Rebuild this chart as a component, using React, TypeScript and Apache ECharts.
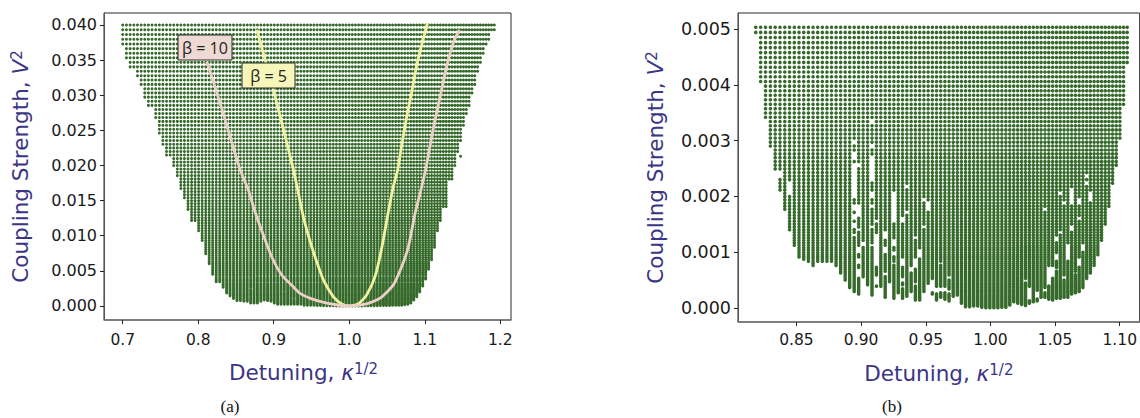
import React, { useEffect, useRef } from "react";
import * as echarts from "echarts";

// Sampled columns (kappa^(1/2)) and coupling (V) rows, panel (a)
const rootKappaA = [.7,.7049,.7098,.7147,.7195,.7244,.7292,.734,.7388,.7437,.7485,.7532,.758,.7628,.7675,.7723,.777,.7817,.7865,.7912,.7958,.8005,.8052,.8099,.8145,.8191,.8238,.8284,.833,.8376,.8421,.8467,.8513,.8558,.8604,.8649,.8694,.8739,.8784,.8829,.8874,.8918,.8963,.9007,.9051,.9096,.914,.9184,.9228,.9271,.9315,.9359,.9402,.9445,.9489,.9532,.9575,.9618,.966,.9703,.9746,.9788,.983,.9873,.9915,.9957,.9999,1.0041,1.0082,1.0124,1.0165,1.0207,1.0248,1.0289,1.033,1.0371,1.0412,1.0453,1.0493,1.0534,1.0574,1.0615,1.0655,1.0695,1.0735,1.0775,1.0815,1.0854,1.0894,1.0933,1.0973,1.1012,1.1051,1.109,1.1129,1.1168,1.1206,1.1245,1.1283,1.1322,1.136,1.1398,1.1436,1.1474,1.1512,1.155,1.1587,1.1625,1.1662,1.1699,1.1737,1.1774,1.1811,1.1847,1.1884,1.1921];
const couplingA = [0,.00172,.00345,.00517,.0069,.00862,.01034,.01207,.01379,.01552,.01724,.01897,.02069,.02241,.02414,.02586,.02759,.02931,.03103,.03276,.03448,.03621,.03793,.03966,.04138,.0431,.04483,.04655,.04828,.05,.05172,.05345,.05517,.0569,.05862,.06034,.06207,.06379,.06552,.06724,.06897,.07069,.07241,.07414,.07586,.07759,.07931,.08103,.08276,.08448,.08621,.08793,.08966,.09138,.0931,.09483,.09655,.09828,.1,.10172,.10345,.10517,.1069,.10862,.11034,.11207,.11379,.11552,.11724,.11897,.12069,.12241,.12414,.12586,.12759,.12931,.13103,.13276,.13448,.13621,.13793,.13966,.14138,.1431,.14483,.14655,.14828,.15,.15172,.15345,.15517,.1569,.15862,.16034,.16207,.16379,.16552,.16724,.16897,.17069,.17241,.17414,.17586,.17759,.17931,.18103,.18276,.18448,.18621,.18793,.18966,.19138,.1931,.19483,.19655,.19828,.2];
// Lower envelope: kappa positions and the lowest V^2 there
const envelopeKappaA = [.49,.49875,.5075,.51625,.525,.53375,.5425,.55125,.56,.56875,.5775,.58625,.595,.60375,.6125,.62125,.63,.63875,.6475,.65625,.665,.67375,.6825,.69125,.7,.70875,.7175,.72625,.735,.74375,.7525,.76125,.77,.77875,.7875,.79625,.805,.81375,.8225,.83125,.84,.84875,.8575,.86625,.875,.88375,.8925,.90125,.91,.91875,.9275,.93625,.945,.95375,.9625,.97125,.98,.98875,.9975,1.00625,1.015,1.02375,1.0325,1.04125,1.05,1.05875,1.0675,1.07625,1.085,1.09375,1.1025,1.11125,1.12,1.12875,1.1375,1.14625,1.155,1.16375,1.1725,1.18125,1.19,1.19875,1.2075,1.21625,1.225,1.23375,1.2425,1.25125,1.26,1.26875,1.2775,1.28625,1.295,1.30375,1.3125,1.32125,1.33,1.33875,1.3475,1.35625,1.365,1.37375,1.3825,1.39125,1.4,1.40875,1.4175];
const floorA = [.0372,.035,.0337,.0324,.0312,.0293,.028,.0263,.0243,.0226,.0212,.0196,.0181,.0166,.015,.0135,.012,.0105,.009,.0073,.0058,.0045,.0034,.0026,.0018,.0014,.001,.0007,.0007,.0006,.0004,.0004,.0004,.0006,.0008,.0007,.0006,.0004,.0002,.0002,.0002,.0002,.0002,.0002,.0002,.0001,.0001,.0001,.0001,.00005,.00005,.00004,.00003,.00002,.00001,.00001,0,0,0,0,0,.00001,.00001,.00002,.00002,.00003,.00003,.00004,.00005,.00005,.00006,.00007,.00008,.0001,.0001,.0001,.00015,.0002,.0004,.0008,.0013,.002,.0028,.0038,.005,.0064,.0083,.0104,.012,.014,.0161,.018,.0198,.0218,.0235,.0252,.027,.0283,.0298,.0315,.033,.0343,.0357,.0367,.0378,.0387,.0393];
// Missing cells: column index, V^2 low, V^2 high
const holesA = [[36,.0024,.0026],[36,.0012,.0014],[46,.0019,.0021],[49,.0009,.0011],[84,.0016,.0018]];
const strayA = [[1.1474,.0213]];

// Panel (b)
const kappaB = [.67,.67621,.68242,.68863,.69484,.70105,.70726,.71347,.71968,.72589,.7321,.73831,.74452,.75073,.75694,.76315,.76936,.77557,.78178,.78799,.7942,.80041,.80662,.81283,.81904,.82525,.83146,.83767,.84388,.85009,.8563,.86251,.86872,.87493,.88114,.88735,.89356,.89977,.90598,.91219,.9184,.92461,.93082,.93703,.94324,.94945,.95566,.96187,.96808,.97429,.9805,.98671,.99292,.99913,1.00534,1.01155,1.01776,1.02397,1.03018,1.03639,1.0426,1.04881,1.05502,1.06123,1.06744,1.07365,1.07986,1.08607,1.09228,1.09849,1.1047,1.11091,1.11712,1.12333,1.12954,1.13575,1.14196,1.14817,1.15438,1.16059,1.1668,1.17301,1.17922,1.18543,1.19164,1.19785,1.20406,1.21027,1.21648,1.22269];
const couplingB = [0,.000657,.001314,.001971,.002628,.003285,.003942,.004599,.005256,.005913,.00657,.007227,.007884,.008541,.009198,.009855,.010512,.011169,.011826,.012483,.01314,.013797,.014454,.015111,.015768,.016425,.017082,.017739,.018396,.019053,.01971,.020367,.021024,.021681,.022338,.022995,.023652,.024309,.024966,.025623,.02628,.026937,.027594,.028251,.028908,.029565,.030222,.030879,.031536,.032193,.03285,.033507,.034164,.034821,.035478,.036135,.036792,.037449,.038106,.038763,.03942,.040077,.040734,.041391,.042048,.042705,.043362,.044019,.044676,.045333,.04599,.046647,.047304,.047961,.048618,.049275,.049932,.050589,.051246,.051903,.05256,.053217,.053874,.054531,.055188,.055845,.056502,.057159,.057816,.058473,.05913,.059787,.060444,.061101,.061758,.062415,.063072,.063729,.064386,.065043,.0657,.066357,.067014,.067671,.068328,.068985,.069642,.070299,.070956];
const floorB = [.00494,.00406,.00337,.00287,.00245,.00207,.00175,.00139,.00112,.00091,.00084,.0008,.00076,.00082,.00082,.00082,.0008,.00073,.0006,.00048,.00035,.00027,.00024,.00055,.00041,.00022,.00037,.00037,.00018,.00045,.00016,.00026,.00016,.0002,.00028,.00013,.00013,.00028,.00043,.00024,.00013,.00018,.00014,.00012,.0002,.00021,.00008,.00002,.00002,.00003,.00003,.00001,0,0,0,0,.00001,.00001,.00005,.0001,.00008,.00006,.00004,.00008,.0001,.00012,.00019,.00019,.00015,.00013,.00017,.00017,.00018,.00019,.00024,.00026,.00028,.00035,.0005,.00062,.00076,.00094,.00121,.00148,.00182,.0022,.00253,.00298,.00364,.0044];
const holesB = [
  [5,.00234,.00244],[6,.00218,.00222],[7,.00202,.00226],
  [21,.00306,.0031],[21,.00295,.00301],[21,.00265,.0028],[21,.00196,.00256],[21,.00175,.00187],[21,.0016,.00166],[21,.00145,.00154],[21,.00127,.00133],
  [22,.00277,.00283],[22,.0025,.00258],[22,.00163,.00187],[22,.00139,.00145],[22,.00097,.0011],[22,.00077,.0009],[22,.00055,.0007],[23,.00112,.00118],
  [25,.00334,.0034],[25,.00286,.00292],[25,.00262,.00271],[25,.00229,.00256],[25,.00196,.00208],[25,.00182,.00187],[25,.00142,.00148],[25,.00112,.00115],
  [26,.00154,.00157],[26,.00073,.00133],[26,.00041,.00058],
  [28,.00124,.00139],[28,.00097,.00109],[28,.00056,.00064],
  [30,.00154,.00208],[30,.00112,.00124],[30,.00094,.001],[30,.00079,.00082],
  [32,.00154,.00163],[32,.00073,.00091],[32,.00046,.00055],[32,.00034,.0004],
  [33,.00217,.0022],[33,.00169,.00175],[34,.00064,.00073],
  [35,.00124,.0013],[35,.0007,.00088],[35,.0004,.00046],[36,.00088,.00106],
  [37,.0019,.00196],[37,.00145,.00148],[38,.00175,.0019],
  [39,.00027,.00052],[40,.00025,.00037],[40,.00073,.00076],[41,.00027,.00037],[41,.00079,.00082],[42,.00028,.00037],[43,.00025,.00033],[43,.00052,.00056],
  [62,.00046,.00052],[63,.00013,.00037],[65,.00016,.00031],[67,.00028,.00034],[67,.00175,.00178],[68,.0004,.00073],[69,.00055,.00073],
  [70,.00118,.00129],[70,.00085,.00097],[70,.00067,.0007],[71,.00205,.00208],[71,.00131,.00136],[71,.00113,.00115],
  [72,.00188,.0019],[72,.00052,.00058],[73,.00085,.00115],[74,.00187,.00214],[74,.0014,.00148],
  [76,.00074,.0009],[76,.00187,.00196],[76,.00159,.00163],[75,.00062,.00064],
  [77,.001,.00115],[77,.00089,.00091],[78,.00235,.00238],[78,.00223,.00226],[79,.00191,.00208],[79,.00167,.00169],
];

// Stability boundaries in panel (a): [kappa^(1/2), V^2]
const beta10 = [[.8113,.0348],[.8289,.0289],[.8554,.0194],[.8664,.0165],[.8752,.0134],[.8862,.0101],[.8973,.007],[.9106,.0044],[.926,.0027],[.9348,.0018],[.9503,.001],[.9702,.0004],[.9875,.0001],[1,0],[1.0232,.0003],[1.0408,.0011],[1.0584,.003],[1.0695,.0056],[1.0783,.0084],[1.0872,.0132],[1.096,.017],[1.1017,.0197],[1.111,.0251],[1.1203,.0298],[1.129,.0341],[1.1379,.0375],[1.1458,.0393]];
const beta5 = [[.8775,.0393],[.8995,.0308],[.926,.0194],[.9392,.0127],[.9481,.0092],[.9569,.0063],[.9657,.0037],[.979,.0013],[.99,.0003],[1,0],[1.012,.0003],[1.0232,.0016],[1.0342,.0042],[1.0431,.0083],[1.0518,.0134],[1.0584,.017],[1.0642,.0194],[1.0695,.0229],[1.0762,.027],[1.0828,.0305],[1.0894,.0343],[1.096,.0372],[1.1034,.0402]];

const xTicksA = [0.7, 0.8, 0.9, 1.0, 1.1, 1.2];
const yTicksA = [0, 0.005, 0.01, 0.015, 0.02, 0.025, 0.03, 0.035, 0.04];
const xTicksB = [0.85, 0.9, 0.95, 1.0, 1.05, 1.1];
const yTicksB = [0, 0.001, 0.002, 0.003, 0.004, 0.005];

// Each column takes the floor of the nearest envelope reading.
const buildGrid = (columns: number[], coupling: number[], envelope: number[], floor: number[], holes: number[][]) => {
  const pts: number[][] = [];
  columns.forEach((x, i) => {
    let best = 0;
    envelope.forEach((e, j) => {
      if (Math.abs(e - x) < Math.abs(envelope[best] - x)) best = j;
    });
    const cut = holes.filter((h) => h[0] === i);
    coupling.forEach((v) => {
      const v2 = v * v;
      if (v2 < floor[best]) return;
      if (cut.some((h) => v2 > h[1] && v2 < h[2])) return;
      pts.push([x, v2]);
    });
  });
  return pts;
};

const FONT = "DejaVu Sans";
const PURPLE = "#3a3585";
const GREEN = "#356a2b";

const nameRich = {
  a: { fontFamily: FONT, fontSize: 21.5, color: PURPLE },
  b: { fontFamily: FONT, fontSize: 21.5, color: PURPLE, fontStyle: "italic" },
  c: { fontFamily: FONT, fontSize: 15, color: PURPLE, verticalAlign: "top", lineHeight: 15 },
};

const xAxis = (gridIndex: number, min: number, max: number, ticks: number[], dec: number, size: number, gap: number, margin: number, pad: number) => ({
  type: "value", gridIndex, min, max,
  name: "{a|Detuning, }{b|κ}{c|1/2}",
  nameLocation: "middle", nameGap: gap,
  nameTextStyle: { rich: nameRich, padding: [0, pad, 0, 0] },
  axisLine: { show: true, onZero: false, lineStyle: { color: "#777", width: 1.5 } },
  axisTick: { show: true, length: 4, customValues: ticks, lineStyle: { color: "#222" } },
  axisLabel: { customValues: ticks, fontFamily: FONT, fontSize: size, color: "#1a1a1a", margin, formatter: (v: number) => v.toFixed(dec) },
  splitLine: { show: false },
});
const yAxis = (gridIndex: number, min: number, max: number, ticks: number[], gap: number, size: number) => ({
  type: "value", gridIndex, min, max,
  name: "{a|Coupling Strength, }{b|V}{c|2}",
  nameLocation: "middle", nameGap: gap,
  nameTextStyle: { rich: nameRich },
  axisLine: { show: true, onZero: false, lineStyle: { color: "#555", width: 1 } },
  axisTick: { show: true, length: 4, customValues: ticks, lineStyle: { color: "#222" } },
  axisLabel: { customValues: ticks, fontFamily: FONT, fontSize: size, color: "#1a1a1a", margin: 7, formatter: (v: number) => v.toFixed(3) },
  splitLine: { show: false },
});

const dots = (i: number, data: number[][], size: number) => ({
  type: "scatter", xAxisIndex: i, yAxisIndex: i, data, symbol: "circle", symbolSize: size,
  large: true, largeThreshold: 100, progressive: 0, silent: true, z: 1,
  itemStyle: { color: GREEN, opacity: 1 },
});
const curve = (data: number[][], color: string) => ({
  type: "line", xAxisIndex: 0, yAxisIndex: 0, data, showSymbol: false, symbol: "none", smooth: 0.2, silent: true,
  lineStyle: { color, width: 2.8, opacity: 1 }, z: 5,
});
const tag = (x: number, y: number, w: number, h: number, fill: string, text: string) => ({
  type: "group", x, y,
  children: [
    { type: "rect", z: 20, shape: { x: 0, y: 0, width: w, height: h }, style: { fill, stroke: "#2a2a2a", lineWidth: 1 } },
    { type: "text", z: 21, x: w / 2, y: h / 2, style: { text, fontFamily: "Open Sans", fontSize: 16, fill: "#222", align: "center", verticalAlign: "middle" } },
  ],
});
const caption = (x: number, text: string) => ({
  type: "text", x, y: 406, style: { text, fontFamily: "Liberation Serif", fontSize: 17, fill: "#111", align: "center", verticalAlign: "middle" },
});

export default function App() {
  const ref = useRef<HTMLDivElement>(null);
  useEffect(() => {
    document.body.style.margin = "0";
    const chart = echarts.init(ref.current!, null, { renderer: "svg" });
    chart.setOption({
      animation: false,
      backgroundColor: "#fff",
      grid: [
        { left: 104, top: 13, width: 407, height: 307, show: true, borderColor: "#2b2b2b", borderWidth: 1 },
        { left: 738, top: 13, width: 403, height: 309, show: true, borderColor: "#2b2b2b", borderWidth: 1 },
      ],
      xAxis: [xAxis(0, 0.6752, 1.2142, xTicksA, 1, 15.5, 41, 12, 8), xAxis(1, 0.8048, 1.1154, xTicksB, 2, 15.5, 40, 10, 0)],
      yAxis: [yAxis(0, -0.002, 0.0417, yTicksA, 73, 16), yAxis(1, -0.000255, 0.00529, yTicksB, 72, 17.5)],
      series: [
        dots(0, buildGrid(rootKappaA, couplingA, envelopeKappaA.map(Math.sqrt), floorA, holesA).concat(strayA), 3),
        dots(1, buildGrid(kappaB.map(Math.sqrt), couplingB, kappaB.map(Math.sqrt), floorB, holesB), 3.6),
        curve(beta5, "#f2f2a0"),
        curve(beta10, "#ecd0c8"),
      ],
      graphic: [
        tag(178, 35, 54, 25, "#efd9d3", "β = 10"),
        tag(242, 63, 53, 25, "#f6f6ba", "β = 5"),
        caption(230, "(a)"),
        caption(892, "(b)"),
      ],
    });
    return () => chart.dispose();
  }, []);
  return <div ref={ref} style={{ position: "fixed", left: 0, top: 0, width: 1140, height: 418 }} />;
}
